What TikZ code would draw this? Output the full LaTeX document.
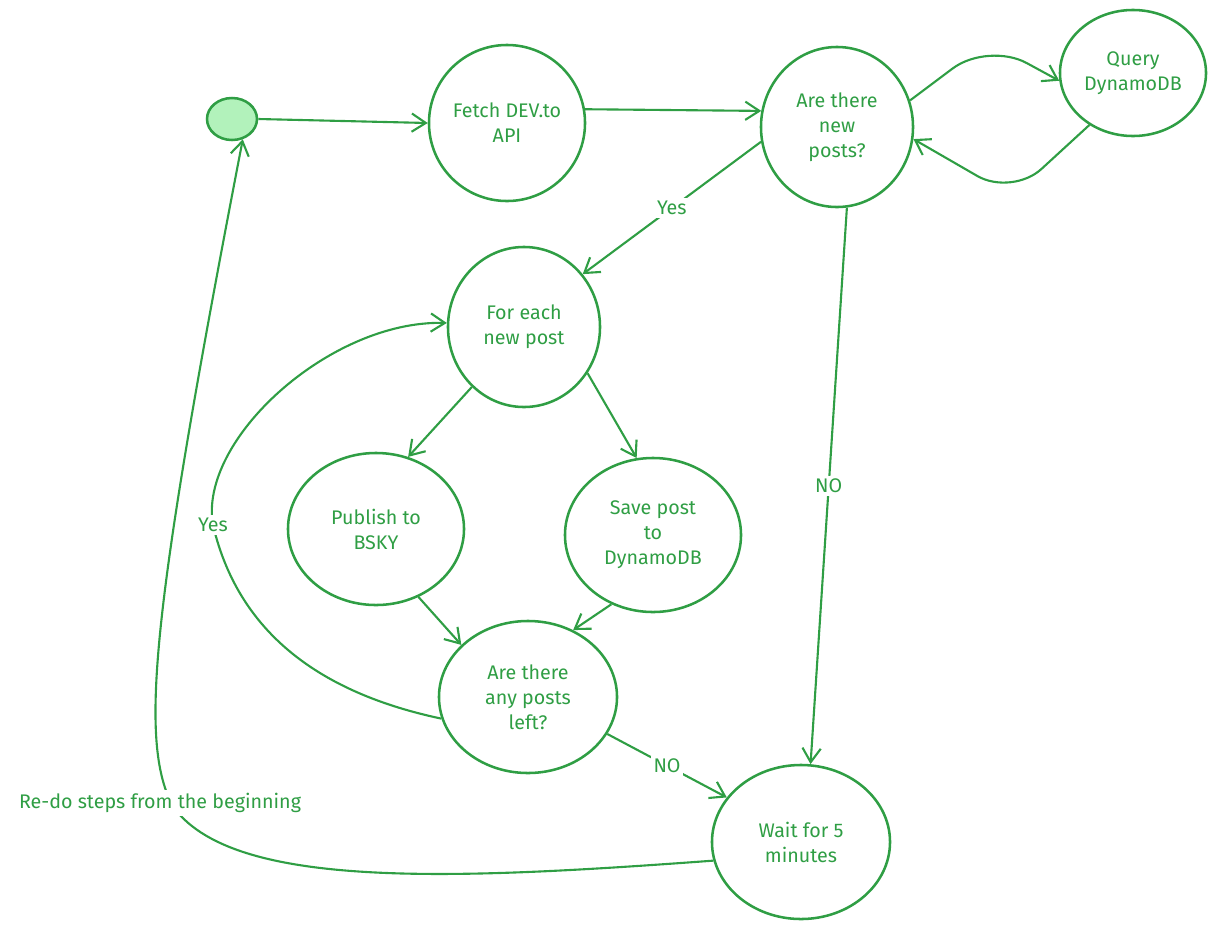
\documentclass[tikz,border=0pt]{standalone}
\usepackage{fontspec}
\setmainfont{Fira Sans}
\usetikzlibrary{arrows.meta,shapes.geometric}
\definecolor{exgreen}{HTML}{2F9E44}
\definecolor{exfill}{HTML}{B2F2BB}
\tikzset{
  px/.style={x=0.025cm,y=-0.025cm},
  state/.style={ellipse,draw=exgreen,line width=1.8pt,text=exgreen,align=center,
    inner sep=0pt,font=\fontsize{14}{17.8}\selectfont},
  conn/.style={draw=exgreen,line width=1.5pt,-{Straight Barb[length=10pt,width=13pt,line width=1.5pt]}},
  lbl/.style={fill=white,text=exgreen,inner sep=2pt,font=\fontsize{14}{16}\selectfont},
}
\begin{document}
\begin{tikzpicture}[px]
\useasboundingbox (0,0) rectangle (1218,929);
% nodes
\node[ellipse,draw=exgreen,fill=exfill,line width=1.8pt,minimum width=1.25cm,minimum height=1.05cm] (start) at (232,119) {};
\node[state,minimum width=3.9cm,minimum height=3.9cm] (fetch) at (507,123) {Fetch DEV.to\\API};
\node[state,minimum width=3.8cm,minimum height=4.0cm] (arenew) at (837,127) {Are there\\new\\posts?};
\node[state,minimum width=3.65cm,minimum height=3.15cm] (query) at (1133,73) {Query\\DynamoDB};
\node[state,minimum width=3.8cm,minimum height=4.0cm] (foreach) at (524,327) {For each\\new post};
\node[state,minimum width=4.4cm,minimum height=3.8cm] (publish) at (376,529) {Publish to\\BSKY};
\node[state,minimum width=4.4cm,minimum height=3.85cm] (save) at (653,535) {Save post\\to\\DynamoDB};
\node[state,minimum width=4.45cm,minimum height=3.8cm] (anyleft) at (528,697) {Are there\\any posts\\left?};
\node[state,minimum width=4.45cm,minimum height=3.85cm] (wait) at (801,842) {Wait for 5\\minutes};
% connectors
\draw[conn] (start.east) -- (fetch.180);
\draw[conn] (fetch.10) -- (arenew.168);
\draw[conn,rounded corners=1.1cm] (arenew.20) -- (988,42) -- (query.186);
\draw[conn,rounded corners=1.0cm] (query.230) -- (1012,196) -- (arenew.351);
\draw[conn] (arenew.191) -- node[lbl,pos=0.5] (lyes1) {Yes} (foreach.42);
\draw[conn] (arenew.277) -- node[lbl,pos=0.5] (lno1) {NO} (wait.83);
\draw[conn] (foreach.229) -- (publish.66);
\draw[conn] (foreach.324) -- (save.102);
\draw[conn] (publish.302) -- (anyleft.142);
\draw[conn] (save.239) -- (anyleft.56);
\draw[conn] (anyleft.194) .. controls (330,695) and (240,640) .. (213,525)
  node[lbl] (lyes2) {Yes}
  .. controls (198,440) and (330,320) .. (foreach.177);
\draw[conn] (anyleft.335) -- node[lbl,pos=0.5] (lno2) {NO} (wait.149);
\draw[conn] (wait.192) .. controls (450,880) and (230,890) .. (172,805)
  .. controls (140,740) and (150,620) .. (start.298);
\node[lbl] (redo) at (160,803) {Re-do steps from the beginning};
\end{tikzpicture}
\end{document}
